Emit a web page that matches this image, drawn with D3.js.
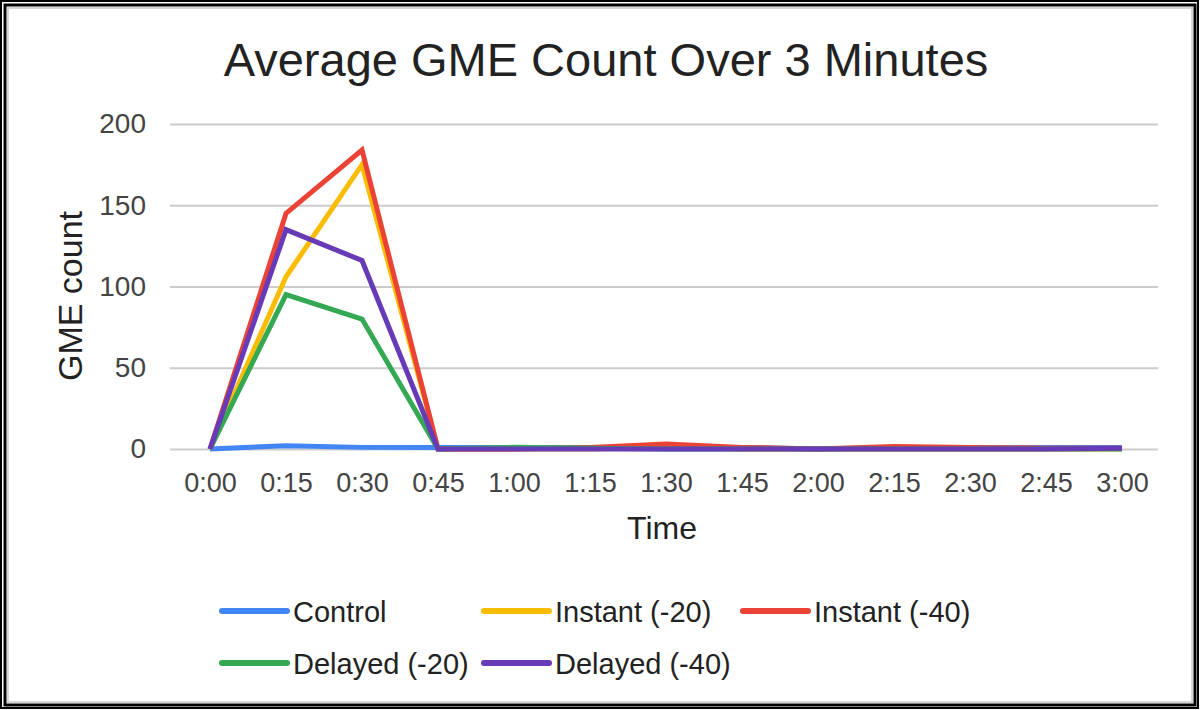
<!DOCTYPE html>
<html><head><meta charset="utf-8">
<script src="https://cdn.jsdelivr.net/npm/d3@7"></script>
<style>body{margin:0;background:#fff}svg{display:block}text{font-family:"Liberation Sans",Arial,sans-serif}</style>
</head><body><svg id="c" width="1200" height="710"></svg>
<script>
const categories = ["0:00","0:15","0:30","0:45","1:00","1:15","1:30","1:45","2:00","2:15","2:30","2:45","3:00"];
const control    = [0, 2, 1, 1, 1, 1, 1, 1, 0, 1, 1, 1, 1];
const instant20  = [0, 106, 175, 0, 0, 0, 1, 0, 0, 0, 0, 0, 0];
const instant40  = [0, 145, 184, 0, 0, 1, 3, 1, 0, 1.5, 1, 0.5, 0.5];
const delayed20  = [0, 95, 80, 0, 1, 0.5, 0, 0, 0, 0, 0, 0, 0];
const delayed40  = [0, 135, 116, 0, 0, 0, 0, 0, 0, 0, 0, 0, 0.5];
const seriesNames = ["Control","Instant (-20)","Instant (-40)","Delayed (-20)","Delayed (-40)"];
const yTicks = [0, 50, 100, 150, 200];

const seriesValues = [control, instant20, instant40, delayed20, delayed40];
const colors = ["#4285F4","#FBBC04","#EA4335","#34A853","#673AB7"];

const svg = d3.select("#c");
svg.append("rect").attr("width",1200).attr("height",710).attr("fill","#fff");
// frame
svg.append("rect").attr("x",1).attr("y",1).attr("width",1197).attr("height",707).attr("fill","none").attr("stroke","#000").attr("stroke-width",2);
svg.append("rect").attr("x",5).attr("y",5).attr("width",1190).attr("height",700).attr("fill","none").attr("stroke","#000").attr("stroke-width",3);
svg.append("rect").attr("x",8).attr("y",8).attr("width",1184).attr("height",694).attr("fill","none").attr("stroke","#d6d6d6").attr("stroke-width",2);

const x = d3.scalePoint().domain(categories).range([210,1122]);
const y = d3.scaleLinear().domain([0,200]).range([449,124]);

svg.append("text").attr("x",606).attr("y",76).attr("text-anchor","middle")
  .attr("font-size",47).attr("fill","#222").text("Average GME Count Over 3 Minutes");

// grid
const yAxis = d3.axisLeft(y).tickValues(yTicks).tickSize(-(1158-170)).tickPadding(24);
const gy = svg.append("g").attr("transform","translate(170,0)").call(yAxis);
gy.select(".domain").remove();
gy.selectAll(".tick line").attr("stroke","#cccccc").attr("stroke-width",2);
gy.selectAll(".tick text").attr("font-size",28).attr("fill","#444").attr("font-family","Liberation Sans, Arial, sans-serif");

const xAxis = d3.axisBottom(x).tickSize(0).tickPadding(24);
const gx = svg.append("g").attr("transform","translate(0,449)").call(xAxis);
gx.select(".domain").remove();
gx.selectAll(".tick text").attr("font-size",27).attr("fill","#444").attr("font-family","Liberation Sans, Arial, sans-serif");

svg.append("text").attr("x",662).attr("y",539).attr("text-anchor","middle").attr("font-size",32).attr("fill","#222").text("Time");
svg.append("text").attr("transform","translate(82,296) rotate(-90)").attr("text-anchor","middle").attr("font-size",34).attr("fill","#222").text("GME count");

const line = d3.line().x((d,i)=>x(categories[i])).y(d=>y(d));
seriesValues.forEach((vals,k)=>{
  svg.append("path").datum(vals).attr("d",line).attr("fill","none")
    .attr("stroke",colors[k]).attr("stroke-width",5).attr("stroke-linejoin","miter").attr("stroke-linecap","butt");
});

// legend
const legPos = [[219,611],[481,611],[740,611],[219,663],[481,663]];
seriesNames.forEach((n,k)=>{
  const [lx,ly] = legPos[k];
  svg.append("line").attr("x1",lx+3).attr("x2",lx+68).attr("y1",ly).attr("y2",ly)
    .attr("stroke",colors[k]).attr("stroke-width",6).attr("stroke-linecap","round");
  svg.append("text").attr("x",lx+74).attr("y",ly+11).attr("font-size",29).attr("fill","#222").text(n);
});
</script></body></html>
